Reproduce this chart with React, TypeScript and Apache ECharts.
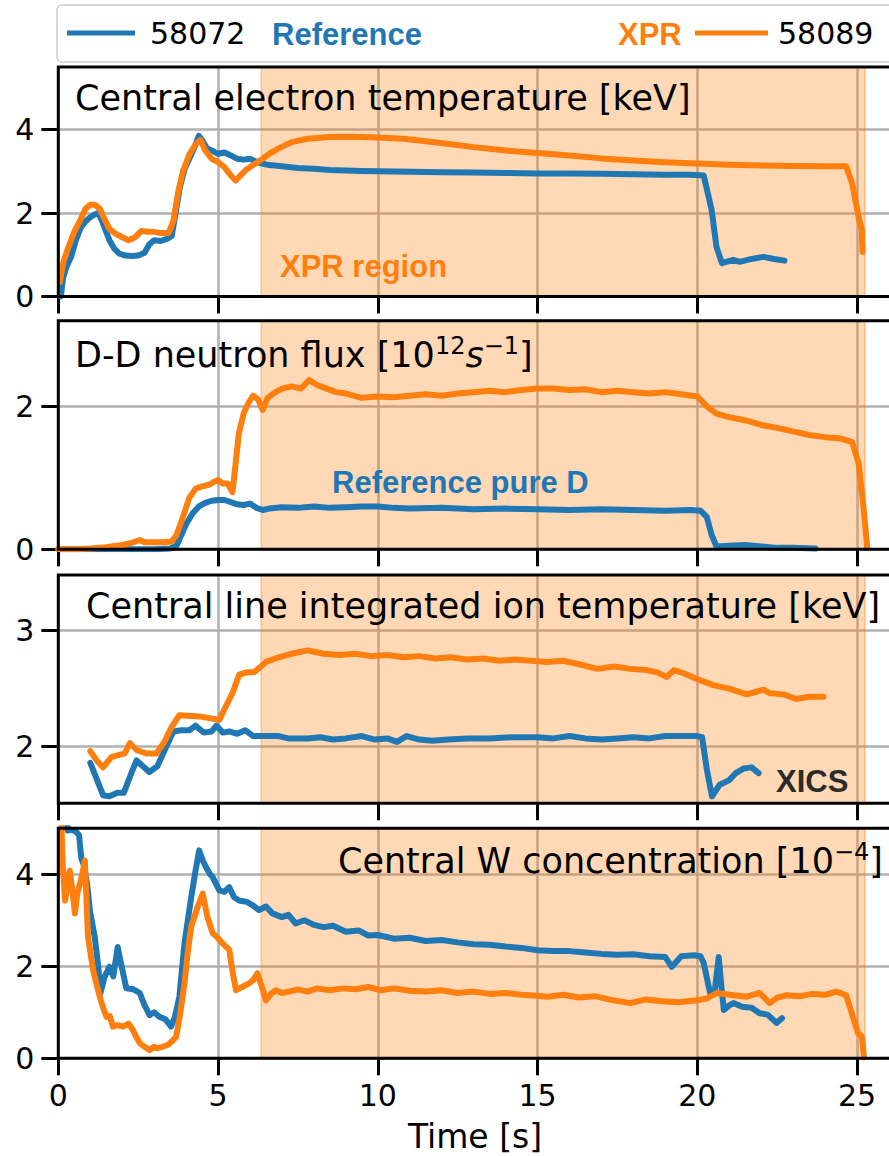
import React, { useEffect, useRef } from "react";
import * as echarts from "echarts";

// ---------- data ----------
const xTicks = [0, 5, 10, 15, 20, 25];
const xprRegion = [6.35, 25.25];

// Panel 1: central electron temperature [keV]
const teRef = [[0.08,0],[0.15,0.45],[0.25,0.7],[0.4,0.95],[0.55,1.35],[0.7,1.65],[0.85,1.8],[1.0,1.9],[1.15,1.97],[1.25,2.0],[1.35,1.85],[1.5,1.55],[1.6,1.35],[1.75,1.15],[1.9,1.03],[2.1,0.98],[2.3,0.97],[2.5,0.98],[2.7,1.05],[2.85,1.25],[3.0,1.35],[3.2,1.33],[3.4,1.38],[3.55,1.45],[3.65,1.9],[3.8,2.6],[3.95,3.05],[4.1,3.3],[4.25,3.55],[4.4,3.85],[4.5,3.75],[4.65,3.55],[4.8,3.5],[5.0,3.42],[5.2,3.45],[5.4,3.38],[5.6,3.3],[5.8,3.28],[6.0,3.3],[6.3,3.2],[6.6,3.15],[7.0,3.12],[7.5,3.08],[8.0,3.06],[8.5,3.03],[9.0,3.02],[9.5,3.01],[10,3.0],[11,2.99],[12,2.98],[13,2.97],[14,2.96],[15,2.95],[16,2.95],[17,2.94],[18,2.93],[19,2.92],[19.8,2.92],[20.2,2.9],[20.45,2.07],[20.6,1.19],[20.77,0.8],[21.13,0.88],[21.33,0.83],[21.7,0.9],[22.07,0.95],[22.4,0.9],[22.73,0.86]];
const teXpr = [[0.05,0.35],[0.15,0.8],[0.3,1.15],[0.5,1.55],[0.7,1.85],[0.85,2.1],[1.0,2.2],[1.15,2.2],[1.3,2.1],[1.45,1.85],[1.6,1.62],[1.8,1.5],[2.0,1.42],[2.2,1.35],[2.4,1.42],[2.6,1.57],[2.8,1.55],[3.0,1.55],[3.2,1.52],[3.45,1.52],[3.6,1.8],[3.75,2.5],[3.9,3.0],[4.1,3.4],[4.3,3.65],[4.45,3.75],[4.6,3.5],[4.8,3.3],[5.0,3.22],[5.2,3.1],[5.4,2.9],[5.55,2.78],[5.7,2.9],[5.9,3.05],[6.1,3.15],[6.3,3.25],[6.6,3.42],[6.9,3.55],[7.3,3.7],[7.8,3.78],[8.5,3.82],[9.2,3.83],[10,3.81],[10.8,3.78],[11.5,3.72],[12.3,3.65],[13,3.58],[14,3.5],[15,3.44],[16,3.38],[17,3.31],[18,3.26],[19,3.22],[20,3.19],[21,3.16],[22,3.14],[23,3.13],[24,3.12],[24.66,3.12],[24.85,2.7],[25.05,1.9],[25.15,1.6],[25.17,1.07]];

// Panel 2: D-D neutron flux [1e12 /s]
const ndRef = [[0,0],[1,0],[2,0],[3,0],[3.5,0.01],[3.7,0.05],[3.85,0.2],[4.0,0.35],[4.2,0.5],[4.4,0.6],[4.6,0.65],[4.8,0.68],[5.0,0.69],[5.2,0.69],[5.4,0.66],[5.6,0.63],[5.8,0.62],[6.0,0.64],[6.2,0.58],[6.4,0.55],[6.6,0.57],[7,0.59],[7.5,0.58],[8,0.6],[8.5,0.58],[9,0.59],[9.5,0.6],[10,0.6],[10.5,0.58],[11,0.57],[12,0.58],[13,0.56],[14,0.57],[15,0.56],[16,0.55],[17,0.56],[18,0.55],[19,0.54],[19.8,0.55],[20.1,0.54],[20.3,0.45],[20.45,0.2],[20.6,0.04],[21,0.05],[21.5,0.06],[22,0.04],[22.5,0.02],[23,0.02],[23.7,0.01]];
const ndXpr = [[0,0],[0.5,0],[1,0.01],[1.5,0.03],[2,0.06],[2.3,0.09],[2.55,0.13],[2.7,0.1],[3,0.1],[3.3,0.1],[3.55,0.11],[3.7,0.2],[3.9,0.45],[4.1,0.72],[4.3,0.85],[4.5,0.88],[4.7,0.9],[4.9,0.95],[5.0,0.97],[5.15,0.92],[5.3,0.92],[5.45,0.8],[5.55,1.2],[5.65,1.62],[5.8,1.9],[5.95,2.05],[6.1,2.15],[6.25,2.1],[6.4,1.95],[6.55,2.12],[6.8,2.2],[7.0,2.25],[7.3,2.28],[7.6,2.25],[7.85,2.37],[8.1,2.3],[8.4,2.25],[8.7,2.2],[9,2.18],[9.5,2.12],[10,2.14],[10.5,2.13],[11,2.15],[11.5,2.17],[12,2.15],[12.5,2.18],[13,2.2],[13.5,2.22],[14,2.2],[14.5,2.23],[15,2.25],[15.5,2.25],[16,2.23],[16.5,2.24],[17,2.2],[17.5,2.22],[18,2.2],[18.5,2.18],[19,2.2],[19.5,2.17],[20,2.14],[20.3,2.0],[20.6,1.9],[21,1.85],[21.55,1.8],[22,1.74],[22.5,1.7],[23.1,1.64],[23.5,1.6],[24,1.57],[24.5,1.55],[24.85,1.5],[25.05,1.2],[25.2,0.6],[25.32,0.02]];

// Panel 3: central line integrated ion temperature [keV] (XICS)
const tiRef = [[1.0,1.86],[1.2,1.72],[1.4,1.58],[1.6,1.57],[1.85,1.6],[2.05,1.6],[2.3,1.78],[2.45,1.88],[2.65,1.83],[2.85,1.78],[3.1,1.83],[3.35,1.98],[3.6,2.13],[3.85,2.14],[4.1,2.14],[4.3,2.18],[4.55,2.12],[4.8,2.13],[4.95,2.18],[5.15,2.12],[5.35,2.13],[5.6,2.11],[5.85,2.14],[6.1,2.09],[6.5,2.09],[6.9,2.09],[7.2,2.07],[7.5,2.07],[7.8,2.07],[8.2,2.08],[8.6,2.06],[9.0,2.07],[9.5,2.09],[9.9,2.06],[10.3,2.07],[10.6,2.04],[10.9,2.09],[11.3,2.06],[11.7,2.05],[12.2,2.06],[12.8,2.07],[13.5,2.07],[14.2,2.08],[15,2.08],[15.5,2.07],[16,2.09],[16.5,2.07],[17,2.06],[17.5,2.07],[18,2.08],[18.5,2.07],[19,2.09],[19.5,2.09],[20,2.09],[20.15,2.08],[20.3,1.8],[20.46,1.57],[20.7,1.67],[21.0,1.71],[21.2,1.77],[21.45,1.81],[21.7,1.82],[21.92,1.77]];
const tiXpr = [[1.0,1.96],[1.2,1.88],[1.4,1.82],[1.67,1.91],[2.08,1.94],[2.24,2.03],[2.45,1.97],[2.76,1.94],[3.07,1.94],[3.32,2.04],[3.55,2.17],[3.79,2.27],[4.41,2.26],[5.04,2.23],[5.25,2.35],[5.45,2.46],[5.66,2.62],[5.9,2.64],[6.13,2.64],[6.5,2.73],[6.9,2.77],[7.3,2.8],[7.8,2.83],[8.3,2.8],[8.8,2.79],[9.3,2.8],[9.8,2.78],[10.3,2.79],[10.8,2.77],[11.3,2.78],[11.8,2.76],[12.3,2.77],[12.8,2.75],[13.3,2.76],[13.8,2.74],[14.3,2.75],[14.8,2.74],[15.3,2.73],[15.8,2.74],[16.3,2.71],[16.87,2.67],[17.4,2.69],[17.9,2.67],[18.4,2.66],[18.75,2.64],[19.05,2.6],[19.27,2.66],[19.6,2.63],[20.0,2.58],[20.5,2.53],[21.0,2.5],[21.55,2.45],[22.07,2.49],[22.27,2.46],[22.7,2.45],[23.1,2.41],[23.5,2.43],[23.95,2.43]];

// Panel 4: central W concentration [1e-4]
const wRef = [[0.22,5.5],[0.3,4.95],[0.42,4.97],[0.55,4.93],[0.65,4.85],[0.72,4.35],[0.8,4.2],[0.9,3.8],[0.99,3.2],[1.14,2.64],[1.25,2.0],[1.32,1.42],[1.45,1.77],[1.6,1.99],[1.72,1.78],[1.86,2.42],[1.95,2.1],[2.13,1.52],[2.35,1.5],[2.55,1.42],[2.7,1.15],[2.86,0.94],[3.0,1.0],[3.17,0.9],[3.35,0.85],[3.53,0.69],[3.65,0.9],[3.79,1.34],[3.95,2.5],[4.16,3.5],[4.3,4.1],[4.41,4.52],[4.52,4.3],[4.62,4.16],[4.75,4.0],[4.83,3.94],[5.04,3.65],[5.2,3.62],[5.35,3.72],[5.5,3.5],[5.66,3.43],[5.9,3.4],[6.1,3.32],[6.28,3.22],[6.5,3.3],[6.7,3.15],[7.0,3.07],[7.2,3.12],[7.43,2.93],[7.7,3.0],[8.0,2.9],[8.3,2.85],[8.6,2.88],[9.0,2.75],[9.4,2.78],[9.7,2.67],[10.0,2.68],[10.5,2.6],[11,2.62],[11.5,2.55],[12,2.57],[12.5,2.52],[13,2.48],[13.5,2.47],[14,2.43],[14.5,2.4],[15,2.35],[15.5,2.33],[16,2.33],[16.5,2.3],[17,2.27],[17.5,2.25],[18,2.26],[18.5,2.22],[19,2.2],[19.2,1.99],[19.5,2.22],[19.9,2.24],[20.1,2.22],[20.2,2.07],[20.4,1.42],[20.55,1.48],[20.67,2.2],[20.75,1.6],[20.83,1.05],[21.0,1.15],[21.13,1.2],[21.4,1.12],[21.7,1.1],[21.95,0.98],[22.2,0.95],[22.48,0.77],[22.65,0.87]];
const wXpr = [[0.08,5.5],[0.14,4.2],[0.21,3.43],[0.3,3.8],[0.36,4.08],[0.45,3.6],[0.52,3.15],[0.6,3.6],[0.68,3.8],[0.75,4.0],[0.83,4.3],[0.93,2.64],[1.09,1.92],[1.2,1.6],[1.3,1.34],[1.4,1.1],[1.51,0.9],[1.61,0.92],[1.71,0.69],[1.85,0.72],[2.02,0.69],[2.2,0.75],[2.34,0.61],[2.45,0.45],[2.55,0.33],[2.7,0.25],[2.86,0.18],[3.0,0.25],[3.1,0.22],[3.27,0.25],[3.45,0.3],[3.6,0.4],[3.69,0.47],[3.8,0.9],[3.95,1.63],[4.05,2.3],[4.16,2.86],[4.36,3.29],[4.52,3.58],[4.6,3.3],[4.67,3.07],[4.83,2.72],[4.95,2.65],[5.14,2.5],[5.35,2.36],[5.45,1.9],[5.56,1.48],[5.75,1.55],[5.97,1.63],[6.1,1.7],[6.23,1.85],[6.35,1.6],[6.5,1.26],[6.65,1.4],[6.81,1.48],[7.0,1.42],[7.22,1.45],[7.5,1.5],[7.8,1.45],[8.1,1.52],[8.5,1.48],[8.9,1.52],[9.3,1.5],[9.7,1.55],[10.1,1.48],[10.5,1.52],[11,1.47],[11.5,1.45],[12,1.48],[12.5,1.42],[13,1.45],[13.5,1.4],[14,1.42],[14.5,1.38],[15,1.36],[15.3,1.34],[15.8,1.38],[16.3,1.32],[16.8,1.35],[17.3,1.27],[17.9,1.2],[18.4,1.28],[18.9,1.24],[19.4,1.22],[20.0,1.26],[20.3,1.3],[20.6,1.42],[21.0,1.38],[21.55,1.34],[21.95,1.42],[22.27,1.2],[22.5,1.32],[22.8,1.37],[23.2,1.35],[23.6,1.4],[24.0,1.38],[24.35,1.45],[24.66,1.37],[25.03,0.55],[25.15,0.47],[25.22,0.02]];

const refSeries = [teRef, ndRef, tiRef, wRef];
const xprSeries = [teXpr, ndXpr, tiXpr, wXpr];
const yRanges = [[0, 5.5], [0, 3.2], [1.51, 3.48], [0, 5.0]];
const yTicks = [[0, 2, 4], [0, 2], [2, 3], [0, 2, 4]];

// ---------- layout / style ----------
const X_MAX = 26;
const GRID_LEFT = 58.3;
const GRID_WIDTH = 834.6;
const gridTops = [67, 320.7, 575, 828.3];
const gridHeights = [229.5, 228.6, 228.3, 230];
const BLUE = "#1f77b4";
const ORANGE = "#ff7f0e";
const DV = "DejaVu Sans";
const LIB = "Liberation Sans";
const LINE_W = 6;

export default function App() {
  const ref = useRef<HTMLDivElement>(null);

  useEffect(() => {
    if (!ref.current) return;
    const chart = echarts.init(ref.current, null, { renderer: "svg" });

    const grid = gridTops.map((t, i) => ({
      left: GRID_LEFT, top: t, width: GRID_WIDTH, height: gridHeights[i], containLabel: false,
    }));

    const xAxis = gridTops.map((_, i) => ({
      type: "value", gridIndex: i, min: 0, max: X_MAX, interval: 5,
      axisLine: { show: false },
      axisTick: { show: true, inside: false, length: 17, customValues: xTicks, lineStyle: { color: "#000", width: 3 } },
      axisLabel: { show: i === 3, customValues: xTicks, margin: 22, color: "#000", fontFamily: DV, fontSize: 30 },
      splitLine: { show: true, lineStyle: { color: "#b0b0b0", width: 2.5 } },
    }));

    const yAxis = gridTops.map((_, i) => ({
      type: "value", gridIndex: i, min: yRanges[i][0], max: yRanges[i][1],
      axisLine: { show: false },
      axisTick: { show: true, inside: false, length: 17, customValues: yTicks[i], lineStyle: { color: "#000", width: 3 } },
      axisLabel: { show: true, customValues: yTicks[i], margin: 24, color: "#000", fontFamily: DV, fontSize: 30 },
      splitLine: { show: true, lineStyle: { color: "#b0b0b0", width: 2.5 } },
    }));

    const series: any[] = [];
    gridTops.forEach((_, i) => {
      series.push({
        type: "line", xAxisIndex: i, yAxisIndex: i, data: refSeries[i],
        symbol: "none", showSymbol: false, z: 3, clip: true,
        lineStyle: { color: BLUE, width: LINE_W, join: "round", cap: "round" },
        itemStyle: { color: BLUE },
        markArea: {
          silent: true,
          itemStyle: { color: "rgba(255,127,14,0.3)", borderColor: "rgba(255,127,14,0.3)", borderWidth: 2 },
          data: [[{ xAxis: xprRegion[0] }, { xAxis: xprRegion[1] }]],
        },
      });
      series.push({
        type: "line", xAxisIndex: i, yAxisIndex: i, data: xprSeries[i],
        symbol: "none", showSymbol: false, z: 4, clip: true,
        lineStyle: { color: ORANGE, width: LINE_W, join: "round", cap: "round" },
        itemStyle: { color: ORANGE },
      });
    });

    const spines = gridTops.map((t, i) => ({
      type: "rect", z: 100, silent: true,
      shape: { x: GRID_LEFT, y: t, width: GRID_WIDTH, height: gridHeights[i] },
      style: { fill: "none", stroke: "#000", lineWidth: 3 },
    }));

    const titleStyle = { fontFamily: DV, fontSize: 35, fill: "#000" };
    const supRich = {
      a: { fontFamily: DV, fontSize: 35, color: "#000" },
      i: { fontFamily: DV, fontSize: 35, fontStyle: "italic", color: "#000" },
      s: { fontFamily: DV, fontSize: 24, color: "#000", padding: [0, 0, 19, 0] },
    };

    const graphic: any[] = [
      ...spines,
      // legend box
      { type: "rect", z: 90, shape: { x: 57, y: 5, width: 850, height: 57, r: 5 }, style: { fill: "#fff", stroke: "#cccccc", lineWidth: 1.5 } },
      { type: "line", z: 91, shape: { x1: 67, y1: 33, x2: 135, y2: 33 }, style: { stroke: BLUE, lineWidth: 5 } },
      { type: "text", z: 91, x: 150, y: 33, style: { text: "58072", fontFamily: DV, fontSize: 30, fill: "#000", verticalAlign: "middle" } },
      { type: "text", z: 91, x: 272, y: 34, style: { text: "Reference", fontFamily: LIB, fontWeight: "bold", fontSize: 31, fill: BLUE, verticalAlign: "middle" } },
      { type: "text", z: 91, x: 618, y: 34, style: { text: "XPR", fontFamily: LIB, fontWeight: "bold", fontSize: 31, fill: ORANGE, verticalAlign: "middle" } },
      { type: "line", z: 91, shape: { x1: 695, y1: 33, x2: 768, y2: 33 }, style: { stroke: ORANGE, lineWidth: 5 } },
      { type: "text", z: 91, x: 778, y: 33, style: { text: "58089", fontFamily: DV, fontSize: 30, fill: "#000", verticalAlign: "middle" } },
      // panel titles
      { type: "text", z: 50, x: 75, y: 98, style: { text: "Central electron temperature [keV]", ...titleStyle, verticalAlign: "middle" } },
      { type: "text", z: 50, x: 75, y: 355, style: { text: "{a|D-D neutron flux [10}{s|12}{i|s}{s|−1}{a|]}", rich: supRich, verticalAlign: "middle" } },
      { type: "text", z: 50, x: 86, y: 606, style: { text: "Central line integrated ion temperature [keV]", ...titleStyle, verticalAlign: "middle" } },
      { type: "text", z: 50, x: 883, y: 861, style: { text: "{a|Central W concentration [10}{s|−4}{a|]}", rich: supRich, align: "right", verticalAlign: "middle" } },
      // annotations
      { type: "text", z: 50, x: 280, y: 266, style: { text: "XPR region", fontFamily: LIB, fontWeight: "bold", fontSize: 31, fill: ORANGE, verticalAlign: "middle" } },
      { type: "text", z: 50, x: 332, y: 482, style: { text: "Reference pure D", fontFamily: LIB, fontWeight: "bold", fontSize: 31, fill: BLUE, verticalAlign: "middle" } },
      { type: "text", z: 50, x: 776, y: 781, style: { text: "XICS", fontFamily: LIB, fontWeight: "bold", fontSize: 31, fill: "#2b2b2b", verticalAlign: "middle" } },
      // x axis name
      { type: "text", z: 50, x: 475, y: 1136, style: { text: "Time [s]", fontFamily: DV, fontSize: 33, fill: "#000", align: "center", verticalAlign: "middle" } },
    ];

    chart.setOption({
      animation: false,
      backgroundColor: "#fff",
      grid, xAxis, yAxis, series, graphic,
    });

    return () => chart.dispose();
  }, []);

  return (
    <div
      ref={ref}
      style={{ position: "absolute", left: 0, top: 0, width: 889, height: 1156 }}
    />
  );
}
